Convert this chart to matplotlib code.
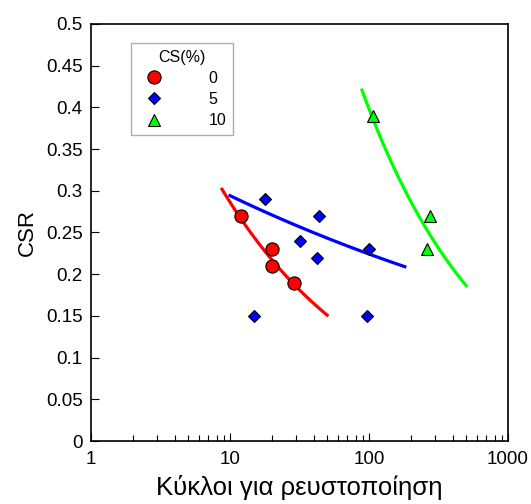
import numpy as np
import matplotlib
matplotlib.use("Agg")
import matplotlib.pyplot as plt

plt.rcParams['font.family'] = ['Liberation Sans', 'DejaVu Sans']

# Dados
n_cs0 = [12, 20, 20, 29]
csr_cs0 = [0.27, 0.23, 0.21, 0.19]
n_cs5 = [18, 44, 32, 42, 100, 15, 97]
csr_cs5 = [0.29, 0.27, 0.24, 0.22, 0.23, 0.15, 0.15]
n_cs10 = [107, 275, 261]
csr_cs10 = [0.39, 0.27, 0.23]

# Curvas de tendência CSR = a * N^b (coeficientes)
fit_a = [0.716, 0.386, 3.50]
fit_b = [-0.398, -0.118, -0.472]
fit_nmin = [8.76, 10, 89]
fit_nmax = [50, 181, 500]
cores = ["#ff0000", "#0000ff", "#00ff00"]

fig = plt.figure(figsize=(5.31, 5.04), dpi=100)
ax = fig.add_axes([0.1714, 0.125, 0.7853, 0.8274])

for a, b, n0, n1, c in zip(fit_a, fit_b, fit_nmin, fit_nmax, cores):
    n = np.logspace(np.log10(n0), np.log10(n1), 100)
    ax.plot(n, a * n ** b, color=c, lw=2.3, zorder=2)

ax.plot(n_cs0, csr_cs0, "o", ms=9.5, mfc="#ff0000", mec="black", mew=0.8, ls="none", label="0", zorder=3)
ax.plot(n_cs5, csr_cs5, "D", ms=6.5, mfc="#0000ff", mec="black", mew=0.8, ls="none", label="5", zorder=3)
ax.plot(n_cs10, csr_cs10, "^", ms=8.5, mfc="#00ff00", mec="black", mew=0.8, ls="none", label="10", zorder=3)

ax.set_xscale("log")
ax.set_xlim(1, 1000)
ax.set_ylim(0, 0.5)
ax.set_yticks(np.arange(0, 0.501, 0.05))
ax.set_yticklabels(["0", "0.05", "0.1", "0.15", "0.2", "0.25", "0.3", "0.35", "0.4", "0.45", "0.5"])
ax.set_xticks([1, 10, 100, 1000])
ax.set_xticklabels(["1", "10", "100", "1000"])
ax.tick_params(axis="both", which="both", direction="in", labelsize=13.5, top=False, right=False)
ax.tick_params(which="major", length=6, width=0.8)
ax.tick_params(which="minor", length=4, width=0.8)
ax.tick_params(axis="x", pad=7)
ax.tick_params(axis="y", pad=6)
for s in ax.spines.values():
    s.set_linewidth(1.2)

ax.set_xlabel("Κύκλοι για ρευστοποίηση", fontsize=18.5, labelpad=5)
ax.set_ylabel("CSR", fontsize=16, labelpad=6)

leg = ax.legend(title="CS(%)", loc="upper left", bbox_to_anchor=(0.096, 0.955),
                fancybox=False, edgecolor="#999999", fontsize=11.5, title_fontsize=11.5,
                markerfirst=True, handletextpad=2.4, borderpad=0.45, labelspacing=0.38,
                borderaxespad=0)
leg.get_frame().set_linewidth(1.0)
for t in leg.get_texts():
    t.set_ha("right")

fig.savefig("out.png", dpi=100)
